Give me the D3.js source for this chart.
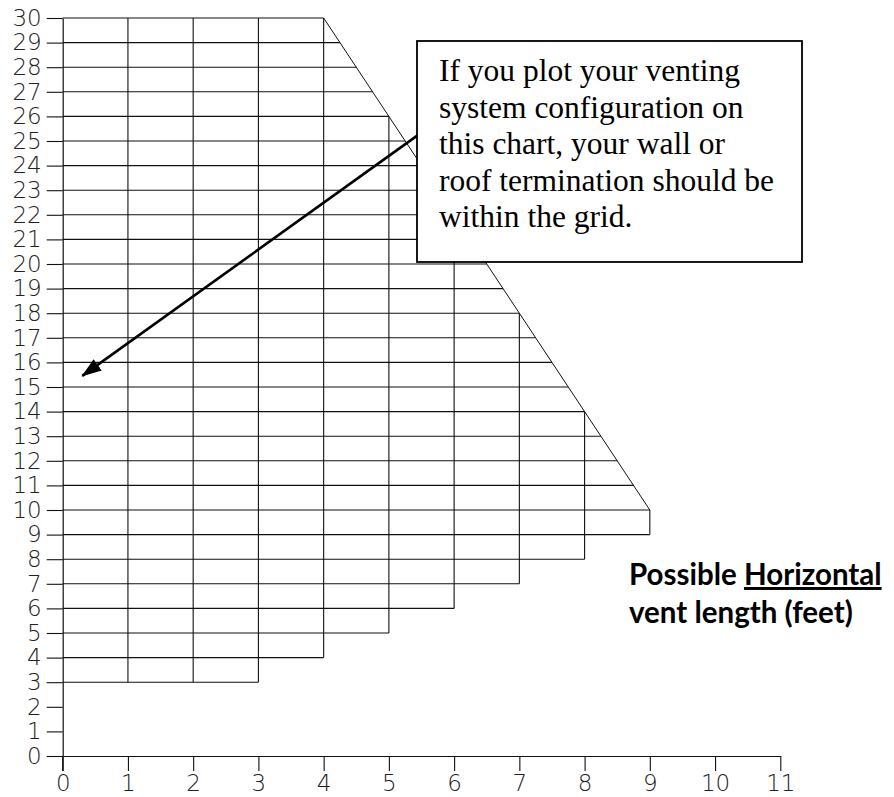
<!DOCTYPE html>
<html>
<head>
<meta charset="utf-8">
<script src="https://cdn.jsdelivr.net/npm/d3@7"></script>
<style>
  html, body { margin: 0; padding: 0; background: #fff; }
  svg { display: block; }
  .tick text { font-family: "DejaVu Sans", sans-serif; font-weight: 200; font-stretch: condensed; }
</style>
</head>
<body>
<svg id="chart" width="894" height="797"></svg>
<script>
// Horizontal vent run (feet) and the vertical rise range allowed for each run
const horizontalRun = [0, 1, 2, 3, 4, 5, 6, 7, 8, 9];
const minVertical   = [3, 3, 3, 3, 4, 5, 6, 7, 8, 9];
const maxVertical   = [30, 30, 30, 30, 30, 26, 22, 18, 14, 10];

// Axis tick labels
const xTickLabels = [0, 1, 2, 3, 4, 5, 6, 7, 8, 9, 10, 11];
const yTickLabels = [0, 1, 2, 3, 4, 5, 6, 7, 8, 9, 10, 11, 12, 13, 14, 15,
                     16, 17, 18, 19, 20, 21, 22, 23, 24, 25, 26, 27, 28, 29, 30];

// Callout text and the arrow it points with (data units)
const calloutLines = [
  "If you plot your venting",
  "system configuration on",
  "this chart, your wall or",
  "roof termination should be",
  "within the grid."
];
const arrowFrom = [5.45, 25.25];
const arrowTo   = [0.30, 15.45];

const svg = d3.select("#chart");

const x = d3.scaleLinear().domain([0, 11]).range([62.7, 780.3]);
const y = d3.scaleLinear().domain([0, 30]).range([756, 18]);

// Right edge of the allowed region at a given vertical rise
const diagRun = d3.scaleLinear()
  .domain(maxVertical.slice(4).reverse())
  .range(horizontalRun.slice(4).reverse())
  .clamp(true);
function rightEdge(v) {
  const stepRun = d3.max(horizontalRun.filter((h, i) => minVertical[i] <= v));
  return Math.min(stepRun, diagRun(v));
}

const grid = svg.append("g").attr("stroke", "#111").attr("stroke-width", 1.1).attr("fill", "none");

// Horizontal grid lines, one per foot of rise
const rises = d3.range(d3.min(minVertical), d3.max(maxVertical) + 1);
grid.selectAll("line.h").data(rises).join("line")
  .attr("class", "h")
  .attr("x1", x(0)).attr("x2", v => x(rightEdge(v)))
  .attr("y1", v => y(v)).attr("y2", v => y(v));

// Vertical grid lines, one per foot of horizontal run
grid.selectAll("line.v").data(horizontalRun.slice(1)).join("line")
  .attr("class", "v")
  .attr("x1", h => x(h)).attr("x2", h => x(h))
  .attr("y1", h => y(minVertical[h])).attr("y2", h => y(maxVertical[h]));

// Sloped upper boundary
const diagPts = horizontalRun.map((h, i) => [h, maxVertical[i]]).filter(d => d[0] >= 4);
grid.append("path")
  .attr("stroke-width", 1)
  .attr("d", d3.line().x(d => x(d[0])).y(d => y(d[1]))(diagPts));

// Axes
const yAxis = d3.axisLeft(y).tickValues(yTickLabels).tickSize(16).tickSizeOuter(0).tickPadding(5);
const xAxis = d3.axisBottom(x).tickValues(xTickLabels).tickSize(15).tickSizeOuter(0).tickPadding(4);

const gy = svg.append("g").attr("transform", `translate(${x(0)},0)`).call(yAxis);
const gx = svg.append("g").attr("transform", `translate(0,${y(0)})`).call(xAxis);

[gy, gx].forEach(g => {
  g.select(".domain").attr("stroke", "#111").attr("stroke-width", 1.2);
  g.selectAll(".tick line").attr("stroke", "#111").attr("stroke-width", 1.1);
  g.selectAll(".tick text").attr("fill", "#222").attr("font-size", 23);
});
// y axis line continues below zero as far as the x ticks
gy.append("line").attr("x1", 0).attr("x2", 0).attr("y1", y(0)).attr("y2", y(0) + 15)
  .attr("stroke", "#111").attr("stroke-width", 1.2);

// Arrow
const defs = svg.append("defs");
defs.append("marker")
  .attr("id", "arrowhead")
  .attr("markerUnits", "userSpaceOnUse")
  .attr("viewBox", "0 0 20 14")
  .attr("refX", 19).attr("refY", 7)
  .attr("markerWidth", 20).attr("markerHeight", 14)
  .attr("orient", "auto")
  .append("path").attr("d", "M0,0 L20,7 L0,14 Z").attr("fill", "#000");

svg.append("line")
  .attr("x1", x(arrowFrom[0])).attr("y1", y(arrowFrom[1]))
  .attr("x2", x(arrowTo[0])).attr("y2", y(arrowTo[1]))
  .attr("stroke", "#000").attr("stroke-width", 2.6)
  .attr("marker-end", "url(#arrowhead)");

// Callout box
const box = svg.append("g");
box.append("rect")
  .attr("x", 417).attr("y", 41).attr("width", 385).attr("height", 221)
  .attr("fill", "#fff").attr("stroke", "#000").attr("stroke-width", 1.8);
box.append("text")
  .attr("font-family", "'Liberation Serif', 'Times New Roman', serif")
  .attr("font-size", 31.5).attr("fill", "#000")
  .selectAll("tspan").data(calloutLines).join("tspan")
  .attr("x", 439).attr("y", (d, i) => 81 + i * 36.5)
  .text(d => d);

// Axis title for the horizontal run
const title = svg.append("text")
  .attr("font-family", "Lato, 'Open Sans', sans-serif")
  .attr("font-weight", "bold").attr("font-size", 29.5).attr("fill", "#000");
title.append("tspan").attr("x", 629).attr("y", 585).text("Possible ");
title.append("tspan").attr("text-decoration", "underline").text("Horizontal");
title.append("tspan").attr("x", 629).attr("y", 623).text("vent length (feet)");
</script>
</body>
</html>
